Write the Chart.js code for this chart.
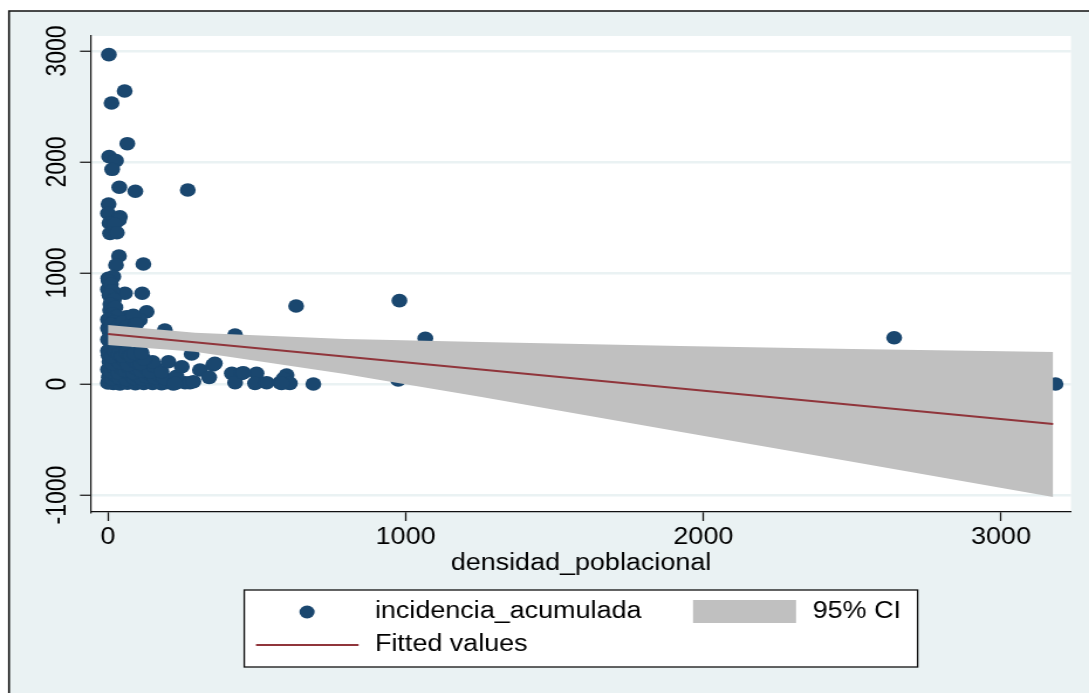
<!DOCTYPE html>
<html>
<head>
<meta charset="utf-8">
<script src="https://cdn.jsdelivr.net/npm/chart.js@4.4.1/dist/chart.umd.min.js"></script>
<style>
  html, body { margin: 0; padding: 0; background: #fff; overflow: hidden; }
  /* the original graph is stretched sideways, so the canvas is drawn narrower and widened */
  #wrap { width: 930px; height: 693px; transform: scaleX(1.171); transform-origin: 0 0; }
  #chart { display: block; }
</style>
</head>
<body>
<div id="wrap"><canvas id="chart" width="930" height="693"></canvas></div>
<script>
// scatter: densidad_poblacional (x) vs incidencia_acumulada (y)
const densidad = [
  3, 56, 12, 65, 4, 27, 14, 38, 92, 268,
  2, 0, 40, 37, 5, 22, 7, 30,
  37, 27, 119, 1, 18, 0, 57, 115,
  12, 7, 130, 7, 63, 107, 191, 0,
  2, 10, 15, 5, 20, 8, 25, 15, 30, 0, 20, 10, 35, 77, 50, 85,
  5, 25, 15, 0, 30, 10, 40, 20, 0, 45, 55, 60, 42, 65, 35, 95,
  0, 8, 18, 28, 40, 52, 65, 78, 92, 105, 120, 135, 150, 165, 180, 195, 219, 235, 259, 275,
  3, 14, 25, 37, 50, 62, 75, 88, 100, 115, 128, 142, 158, 172, 190, 230,
  0, 10, 22, 34, 46, 58, 70, 85, 98, 112, 125, 140, 155, 180, 309,
  5, 16, 28, 40, 55, 68, 82, 96, 110, 150, 203, 120,
  2, 12, 24, 36, 48, 62, 75, 90, 113, 281,
  248, 353, 340, 427, 416, 449, 499, 427, 494, 533, 600, 600, 578, 632, 690, 287, 225, 590, 611, 583, 455, 359,
  979, 1066, 975, 2641, 3183
];
const incidencia = [
  2967, 2640, 2532, 2165, 2048, 2012, 1934, 1772, 1736, 1748,
  1622, 1538, 1507, 1477, 1450, 1440, 1357, 1363,
  1153, 1072, 1081, 952, 967, 853, 817, 817,
  757, 667, 651, 595, 606, 577, 486, 505,
  930, 900, 840, 800, 760, 720, 690, 630, 610, 580, 560, 540, 520, 590, 560, 620,
  470, 450, 420, 400, 390, 360, 340, 320, 300, 300, 350, 400, 450, 520, 480, 540,
  10, 25, 5, 15, 0, 20, 8, 28, 3, 18, 6, 22, 6, 15, 2, 12, 0, 18, 12, 12,
  60, 45, 80, 55, 70, 40, 85, 50, 75, 45, 65, 90, 55, 80, 50, 70,
  130, 110, 150, 105, 140, 120, 155, 100, 135, 115, 150, 110, 160, 110, 126,
  200, 180, 220, 190, 215, 175, 230, 195, 185, 200, 201, 225,
  260, 245, 290, 270, 250, 285, 255, 275, 282, 270,
  156, 171, 60, 441, 96, 96, 96, 12, 6, 12, 81, 12, 12, 703, 0, 21, 6, 50, 6, 6, 102, 186,
  751, 412, 36, 417, 0
];

// fitted values and 95% CI band
const fitX = [0, 3175];
const fitY = [450, -360];
const ciX = [0, 292, 796, 914, 1250, 1921, 2500, 3175];
const ciUpper = [531, 462, 405, 398, 378, 342, 316, 288];
const ciLower = [351, 291, 90, 36, -115, -430, -700, -1018];

const xTicks = [0, 1000, 2000, 3000];
const yTicks = [-1000, 0, 1000, 2000, 3000];
const xTitle = "densidad_poblacional";

const NAVY = "#1a476f";
const MAROON = "#90353b";
const CI_GREY = "#c0c0c0";
const BG = "#eaf2f3";
const FONT = '"Liberation Sans", Arial, sans-serif';

Chart.defaults.font.family = FONT;
Chart.defaults.font.size = 23;
Chart.defaults.color = "#000";

function pts(xs, ys) {
  return xs.map((x, i) => ({ x, y: ys[i] }));
}

// light graph region, black frame on top/left, white plot region
const frame = {
  id: "frame",
  beforeDraw(chart) {
    const { ctx, width, height, chartArea: a } = chart;
    ctx.save();
    ctx.fillStyle = "#fff";
    ctx.fillRect(0, 0, width, height);
    ctx.fillStyle = BG;
    ctx.fillRect(7.7, 11, width, height);
    ctx.strokeStyle = "#111";
    ctx.lineWidth = 1.6;
    ctx.beginPath();
    ctx.moveTo(7.7, height);
    ctx.lineTo(7.7, 11);
    ctx.lineTo(width, 11);
    ctx.stroke();
    ctx.fillStyle = "#fff";
    ctx.fillRect(a.left, a.top, a.right - a.left, a.bottom - a.top);
    ctx.restore();
  },
};

// boxed stata-style legend under the plot
const boxLegend = {
  id: "boxLegend",
  afterDraw(chart) {
    const { ctx } = chart;
    const ds = chart.data.datasets;
    ctx.save();
    ctx.fillStyle = "#fff";
    ctx.fillRect(208.6, 590, 575, 77);
    ctx.strokeStyle = "#111";
    ctx.lineWidth = 1.3;
    ctx.strokeRect(208.6, 590, 575, 77);

    ctx.font = "23px " + FONT;
    ctx.textBaseline = "middle";
    ctx.textAlign = "left";

    // incidencia_acumulada marker
    ctx.fillStyle = ds[3].backgroundColor;
    ctx.beginPath();
    ctx.arc(262.2, 612, 6.5, 0, Math.PI * 2);
    ctx.fill();
    ctx.fillStyle = "#000";
    ctx.fillText(ds[3].label, 320.2, 612);

    // 95% CI swatch
    ctx.fillStyle = ds[1].backgroundColor;
    ctx.fillRect(591.8, 600, 88, 23);
    ctx.fillStyle = "#000";
    ctx.fillText(ds[1].label, 694, 612);

    // fitted values line
    ctx.strokeStyle = ds[0].borderColor;
    ctx.lineWidth = 2;
    ctx.beginPath();
    ctx.moveTo(218.6, 645);
    ctx.lineTo(306.2, 645);
    ctx.stroke();
    ctx.fillStyle = "#000";
    ctx.fillText(ds[0].label, 320.2, 645);
    ctx.restore();
  },
};

new Chart(document.getElementById("chart"), {
  type: "scatter",
  data: {
    datasets: [
      {
        type: "line",
        label: "Fitted values",
        data: pts(fitX, fitY),
        borderColor: MAROON,
        borderWidth: 2,
        pointRadius: 0,
        fill: false,
        order: 0,
      },
      {
        type: "line",
        label: "95% CI",
        data: pts(ciX, ciUpper),
        borderColor: "rgba(0,0,0,0)",
        backgroundColor: CI_GREY,
        borderWidth: 1,
        pointRadius: 0,
        fill: "+1",
        order: 1,
      },
      {
        type: "line",
        label: "95% CI lower",
        data: pts(ciX, ciLower),
        borderColor: "rgba(0,0,0,0)",
        borderWidth: 1,
        pointRadius: 0,
        fill: false,
        order: 1,
      },
      {
        label: "incidencia_acumulada",
        data: pts(densidad, incidencia),
        backgroundColor: NAVY,
        borderColor: NAVY,
        pointRadius: 6.8,
        pointBorderWidth: 0,
        order: 2,
      },
    ],
  },
  options: {
    responsive: false,
    devicePixelRatio: 1,
    animation: false,
    events: [],
    layout: { padding: { left: 0, right: 15.4, top: 36, bottom: 0 } },
    plugins: { legend: { display: false }, tooltip: { enabled: false } },
    scales: {
      x: {
        type: "linear",
        min: -57,
        max: 3235,
        afterBuildTicks: (s) => { s.ticks = xTicks.map((v) => ({ value: v })); },
        afterFit: (s) => { s.height = 181; },
        grid: { drawOnChartArea: false, tickLength: 9, tickColor: "#111", tickWidth: 1.3 },
        border: { color: "#111", width: 1.3 },
        ticks: { padding: 3, maxRotation: 0, font: { size: 23 }, callback: (v) => String(v) },
        title: { display: true, text: xTitle, font: { size: 23 }, padding: { top: 0, bottom: 116 } },
      },
      y: {
        type: "linear",
        min: -1153,
        max: 3135,
        afterBuildTicks: (s) => { s.ticks = yTicks.map((v) => ({ value: v })); },
        afterFit: (s) => { s.width = 77.7; },
        grid: { color: BG, lineWidth: 2.5, tickLength: 9.4, tickColor: "#111", tickWidth: 1.2 },
        border: { color: "#111", width: 1.2 },
        ticks: { minRotation: 90, maxRotation: 90, crossAlign: "center", padding: -10.6, font: { size: 23 }, callback: (v) => String(v) },
      },
    },
  },
  plugins: [frame, boxLegend],
});
</script>
</body>
</html>
